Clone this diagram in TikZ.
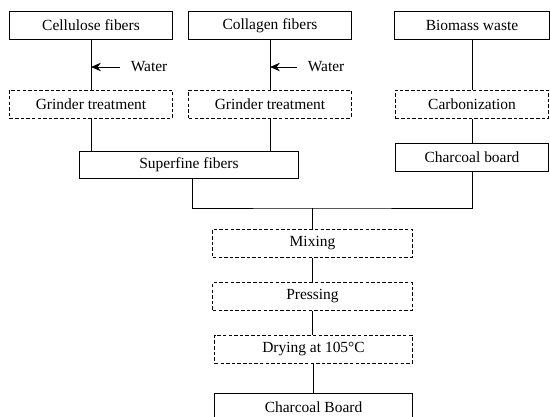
\documentclass[tikz,border=0pt]{standalone}
\usepackage{fontspec}
\setmainfont{Liberation Serif}
\usetikzlibrary{arrows.meta}

\tikzset{
	box/.style={draw, line width=0.7pt, minimum height=0.7cm, inner sep=0pt, font=\fontsize{11}{13}\selectfont},
	dbox/.style={box, dash pattern=on 2.5pt off 1.5pt},
	link/.style={line width=0.7pt},
	water/.style={anchor=west, inner xsep=7.5pt, inner ysep=0pt, font=\fontsize{11}{13}\selectfont},
}

\begin{document}
\begin{tikzpicture}[x=0.025cm, y=-0.025cm]
		%%%%% START %%%%%
		\useasboundingbox (0, 0) rectangle (550, 416);
		
		% top row
		\node[box, minimum width=4.05cm] (cellulose) at (91, 25.5) {Cellulose fibers};
		\node[box, minimum width=4.05cm] (collagen) at (270, 25.5) {Collagen fibers};
		\node[box, minimum width=3.875cm] (biomass) at (472, 25.5) {Biomass waste};
		
		% treatments
		\node[dbox, minimum width=4.075cm] (grindA) at (91, 104) {Grinder treatment};
		\node[dbox, minimum width=4.05cm] (grindB) at (270, 104) {Grinder treatment};
		\node[dbox, minimum width=3.825cm] (carbon) at (472, 104) {Carbonization};
		
		\node[box, minimum width=5.45cm, minimum height=0.675cm] (superfine) at (189, 164.5) {Superfine fibers};
		\node[box, minimum width=3.825cm] (charcoal) at (472, 157) {Charcoal board};
		
		% centre column
		\node[dbox, minimum width=4.975cm] (mixing) at (312.5, 243) {Mixing};
		\node[dbox, minimum width=4.975cm] (pressing) at (312.5, 296.5) {Pressing};
		\node[dbox, minimum width=4.925cm] (drying) at (313.5, 349) {Drying at 105°C};
		\node[box, minimum width=4.925cm] (board) at (313.5, 407) {Charcoal Board};
		
		% water
		\node[water] (waterA) at (120, 67) {Water};
		\node[water] (waterB) at (297, 67) {Water};
		\draw[link, -{Stealth[length=7pt, width=6pt]}] (waterA.west) -- (waterA.west -| cellulose.south);
		\draw[link, -{Stealth[length=7pt, width=6pt]}] (waterB.west) -- (waterB.west -| collagen.south);
		
		\draw[link] (cellulose) -- (grindA);
		\draw[link] (collagen) -- (grindB);
		\draw[link] (biomass) -- (carbon);
		\draw[link] (carbon) -- (charcoal);
		\draw[link] (grindA.south) -- (grindA.south |- superfine.north);
		\draw[link] (grindB.south) -- (grindB.south |- superfine.north);
		
		\coordinate (join) at (312.5, 208);
		\draw[link] ([xshift=0.075cm]superfine.south) |- (join) -| (charcoal.south);
		\draw[link] (join) -- (mixing.north);
		
		\draw[link] (mixing) -- (pressing);
		\draw[link] (pressing) -- (drying.north -| pressing.south);
		\draw[link] (drying) -- (board);
		
		%%%%% END %%%%%
	\end{tikzpicture}
\end{document}
